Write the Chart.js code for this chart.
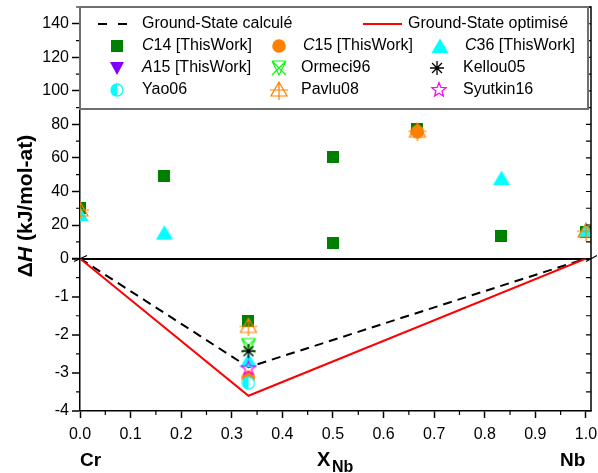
<!DOCTYPE html>
<html>
<head>
<meta charset="utf-8">
<script src="https://cdn.jsdelivr.net/npm/chart.js@4.4.1/dist/chart.umd.min.js"></script>
<style>
  html, body { margin: 0; padding: 0; background: #fff; }
</style>
</head>
<body>
<canvas id="enthalpyChart" width="598" height="473"></canvas>
<script>
// values (x = X_Nb, y = dH in kJ/mol-at)
const xC14 = [0, 0.167, 0.333, 0.5, 0.5, 0.667, 0.833, 1.0];
const yC14 = [30, 49.5, -1.65, 60.5, 9.5, 77.5, 13.5, 16];
const xC15 = [0.333, 0.667];
const yC15 = [-3.12, 75.6];
const xC36 = [0, 0.167, 0.333, 0.833, 1.0];
const yC36 = [26.5, 15.5, -2.67, 48, 17];
const xA15 = [];
const yA15 = [];
const xYao06 = [0.333];
const yYao06 = [-3.27];
const xOrmeci96 = [0.333];
const yOrmeci96 = [-2.28];
const xPavlu08 = [0, 0.333, 0.667, 1.0];
const yPavlu08 = [29, -1.78, 76, 16.3];
const xKellou05 = [0.333];
const yKellou05 = [-2.43];
const xSyutkin16 = [0.333];
const ySyutkin16 = [-2.88];

const xGsCalc = [0, 0.333, 1.0];
const yGsCalc = [0, -2.85, 0];
const xGsOpt = [0, 0.333, 1.0];
const yGsOpt = [0, -3.6, 0];

const xTicks = [0, 0.1, 0.2, 0.3, 0.4, 0.5, 0.6, 0.7, 0.8, 0.9, 1.0];

const FONT = "'Liberation Sans', Arial, sans-serif";
Chart.defaults.font.family = FONT;
Chart.defaults.color = '#000';

// marker images
function marker(size, draw) {
    const c = document.createElement('canvas');
    c.width = size;
    c.height = size;
    const g = c.getContext('2d');
    g.translate(size / 2, size / 2);
    draw(g);
    return c;
}

const mkSquare = marker(12, g => {
    g.fillStyle = '#008000';
    g.fillRect(-6, -6, 12, 12);
});
const mkCircle = marker(14, g => {
    g.fillStyle = '#ff8000';
    g.beginPath();
    g.arc(0, 0, 6.8, 0, Math.PI * 2);
    g.fill();
});
const mkTri = marker(18, g => {
    g.fillStyle = '#00ffff';
    g.beginPath();
    g.moveTo(0, -7.5);
    g.lineTo(8.5, 7);
    g.lineTo(-8.5, 7);
    g.closePath();
    g.fill();
});
const mkInvTri = marker(16, g => {
    g.fillStyle = '#8000ff';
    g.beginPath();
    g.moveTo(-7, -6);
    g.lineTo(7, -6);
    g.lineTo(0, 7);
    g.closePath();
    g.fill();
});
const mkYao = marker(14, g => {
    g.fillStyle = '#fff';
    g.beginPath();
    g.arc(0, 0, 6, 0, Math.PI * 2);
    g.fill();
    g.fillStyle = '#00ffff';
    g.beginPath();
    g.arc(0, 0, 6, Math.PI / 2, Math.PI * 1.5);
    g.fill();
    g.strokeStyle = '#00ffff';
    g.lineWidth = 1.3;
    g.beginPath();
    g.arc(0, 0, 6, 0, Math.PI * 2);
    g.stroke();
});
const mkOrmeci = marker(18, g => {
    g.strokeStyle = '#00ff00';
    g.lineWidth = 1.2;
    g.beginPath();
    g.moveTo(-7, -7); g.lineTo(7, -7);
    g.moveTo(-7, -7); g.lineTo(0, 7); g.lineTo(7, -7);
    g.moveTo(-7, -7); g.lineTo(7, 7);
    g.moveTo(7, -7); g.lineTo(-7, 7);
    g.stroke();
});
const mkPavlu = marker(20, g => {
    g.strokeStyle = '#ff8000';
    g.lineWidth = 1.2;
    g.beginPath();
    g.moveTo(0, -8); g.lineTo(8, 6); g.lineTo(-8, 6); g.closePath();
    g.moveTo(0, -8); g.lineTo(0, 10);
    g.moveTo(-9, 0); g.lineTo(9, 0);
    g.stroke();
});
const mkKellou = marker(16, g => {
    g.strokeStyle = '#000';
    g.lineWidth = 1.3;
    g.beginPath();
    for (let k = 0; k < 4; k++) {
        const a = k * Math.PI / 4;
        g.moveTo(-7 * Math.cos(a), -7 * Math.sin(a));
        g.lineTo(7 * Math.cos(a), 7 * Math.sin(a));
    }
    g.stroke();
});
const mkStar = marker(18, g => {
    g.strokeStyle = '#ff00ff';
    g.lineWidth = 1.2;
    g.beginPath();
    for (let k = 0; k < 10; k++) {
        const r = k % 2 === 0 ? 7.5 : 3.2;
        const a = -Math.PI / 2 + k * Math.PI / 5;
        if (k === 0) g.moveTo(r * Math.cos(a), r * Math.sin(a));
        else g.lineTo(r * Math.cos(a), r * Math.sin(a));
    }
    g.closePath();
    g.stroke();
});

// first in list is drawn on top
const pointSeries = [
    { label: 'Yao06', xs: xYao06, ys: yYao06, style: mkYao },
    { label: 'Syutkin16', xs: xSyutkin16, ys: ySyutkin16, style: mkStar },
    { label: 'Kellou05', xs: xKellou05, ys: yKellou05, style: mkKellou },
    { label: 'Ormeci96', xs: xOrmeci96, ys: yOrmeci96, style: mkOrmeci },
    { label: 'C15 [ThisWork]', xs: xC15, ys: yC15, style: mkCircle },
    { label: 'Pavlu08', xs: xPavlu08, ys: yPavlu08, style: mkPavlu },
    { label: 'C36 [ThisWork]', xs: xC36, ys: yC36, style: mkTri },
    { label: 'C14 [ThisWork]', xs: xC14, ys: yC14, style: mkSquare },
    { label: 'A15 [ThisWork]', xs: xA15, ys: yA15, style: mkInvTri }
];

const datasets = [];
pointSeries.forEach(s => {
    const top = [];
    const bot = [];
    s.xs.forEach((x, i) => {
        if (s.ys[i] >= 0) top.push({ x: x, y: s.ys[i] });
        else bot.push({ x: x, y: s.ys[i] });
    });
    [['yTop', top], ['yBot', bot]].forEach(([axis, pts]) => {
        datasets.push({
            label: s.label,
            data: pts,
            yAxisID: axis,
            pointStyle: s.style,
            pointRadius: 6,
            showLine: false,
            clip: 0
        });
    });
});

function toPoints(xs, ys) {
    return xs.map((x, i) => ({ x: x, y: ys[i] }));
}

datasets.push({
    label: 'Ground-State optimisé',
    data: toPoints(xGsOpt, yGsOpt),
    yAxisID: 'yBot',
    showLine: true,
    borderColor: '#ff0000',
    borderWidth: 2,
    pointRadius: 0,
    clip: 0
});
datasets.push({
    label: 'Ground-State calculé',
    data: toPoints(xGsCalc, yGsCalc),
    yAxisID: 'yBot',
    showLine: true,
    borderColor: '#000',
    borderWidth: 2,
    borderDash: [9, 6],
    pointRadius: 0,
    clip: 0
});

// legend entries, in the figure's layout
const legendRows = [
    [{ line: 'dash', label: 'Ground-State calculé', mx: 112, tx: 142 },
     { line: 'red', label: 'Ground-State optimisé', mx: 382, tx: 408 }],
    [{ mk: mkSquare, it: 'C', label: '14 [ThisWork]', mx: 117, tx: 142 },
     { mk: mkCircle, it: 'C', label: '15 [ThisWork]', mx: 279, tx: 303 },
     { mk: mkTri, it: 'C', label: '36 [ThisWork]', mx: 440, tx: 465 }],
    [{ mk: mkInvTri, it: 'A', label: '15 [ThisWork]', mx: 117, tx: 142 },
     { mk: mkOrmeci, label: 'Ormeci96', mx: 279, tx: 301 },
     { mk: mkKellou, label: 'Kellou05', mx: 437, tx: 463 }],
    [{ mk: mkYao, label: 'Yao06', mx: 117, tx: 142 },
     { mk: mkPavlu, label: 'Pavlu08', mx: 279, tx: 301 },
     { mk: mkStar, label: 'Syutkin16', mx: 439, tx: 463 }]
];

const decor = {
    id: 'decor',
    afterDraw(chart) {
        const ctx = chart.ctx;
        const a = chart.chartArea;
        const sx = chart.scales.x;
        const yt = chart.scales.yTop;
        const yb = chart.scales.yBot;
        ctx.save();
        ctx.strokeStyle = '#000';
        ctx.lineWidth = 1.5;

        // top and right frame
        ctx.beginPath();
        ctx.moveTo(a.left, a.top);
        ctx.lineTo(a.right, a.top);
        ctx.lineTo(a.right, a.bottom);
        ctx.stroke();

        ctx.lineWidth = 1.2;
        ctx.beginPath();
        // minor ticks, left and bottom
        for (let v = 10; v <= 150; v += 20) {
            const p = yt.getPixelForValue(v);
            ctx.moveTo(a.left - 4, p); ctx.lineTo(a.left, p);
        }
        for (let v = -3.5; v < 0; v += 1) {
            const p = yb.getPixelForValue(v);
            ctx.moveTo(a.left - 4, p); ctx.lineTo(a.left, p);
        }
        for (let v = 0.05; v < 1.0; v += 0.1) {
            const p = sx.getPixelForValue(v);
            ctx.moveTo(p, a.bottom); ctx.lineTo(p, a.bottom + 4);
        }
        // right side ticks, inward
        for (let v = 0; v <= 150; v += 10) {
            const p = yt.getPixelForValue(v);
            ctx.moveTo(a.right - 5, p); ctx.lineTo(a.right, p);
        }
        for (let v = -4; v < 0; v += 0.5) {
            const p = yb.getPixelForValue(v);
            ctx.moveTo(a.right - 5, p); ctx.lineTo(a.right, p);
        }
        // axis break marks at zero
        const z = yb.getPixelForValue(0);
        ctx.moveTo(a.left - 6, z + 3); ctx.lineTo(a.left + 7, z - 3);
        ctx.moveTo(a.right - 5, z + 3); ctx.lineTo(a.right + 6, z - 3);
        ctx.stroke();

        // legend box
        const bx = a.left, by = a.top, bw = 508, bh = 102;
        ctx.fillStyle = '#fff';
        ctx.fillRect(bx, by, bw, bh);
        ctx.strokeStyle = '#6e6e6e';
        ctx.lineWidth = 2;
        ctx.strokeRect(bx, by, bw, bh);

        ctx.textBaseline = 'middle';
        ctx.textAlign = 'left';
        ctx.fillStyle = '#000';
        legendRows.forEach((row, r) => {
            const cy = 24 + r * 22;
            row.forEach(e => {
                if (e.line === 'dash') {
                    ctx.strokeStyle = '#000';
                    ctx.lineWidth = 2;
                    ctx.setLineDash([9, 11]);
                    ctx.beginPath();
                    ctx.moveTo(98, cy); ctx.lineTo(127, cy);
                    ctx.stroke();
                    ctx.setLineDash([]);
                } else if (e.line === 'red') {
                    ctx.strokeStyle = '#ff0000';
                    ctx.lineWidth = 2;
                    ctx.beginPath();
                    ctx.moveTo(363, cy); ctx.lineTo(402, cy);
                    ctx.stroke();
                } else {
                    ctx.drawImage(e.mk, e.mx - e.mk.width / 2, cy - e.mk.height / 2);
                }
                let tx = e.tx;
                if (e.it) {
                    ctx.font = 'italic 16px ' + FONT;
                    ctx.fillText(e.it, tx, cy);
                    tx += ctx.measureText(e.it).width;
                }
                ctx.font = '16px ' + FONT;
                ctx.fillText(e.label, tx, cy);
            });
        });

        // y axis title
        ctx.save();
        ctx.translate(26, 206);
        ctx.rotate(-Math.PI / 2);
        const parts = [['bold 21px ', '\u0394'], ['italic bold 21px ', 'H'], ['bold 21px ', ' (kJ/mol-at)']];
        let total = 0;
        parts.forEach(p => { ctx.font = p[0] + FONT; total += ctx.measureText(p[1]).width; });
        let px = -total / 2;
        parts.forEach(p => {
            ctx.font = p[0] + FONT;
            ctx.fillText(p[1], px, 0);
            px += ctx.measureText(p[1]).width;
        });
        ctx.restore();

        // x axis labels
        ctx.textBaseline = 'alphabetic';
        ctx.font = 'bold 19px ' + FONT;
        ctx.fillText('Cr', 80, 466);
        ctx.fillText('Nb', 560, 466);
        ctx.font = 'bold 20px ' + FONT;
        ctx.fillText('X', 317, 466);
        ctx.font = 'bold 16px ' + FONT;
        ctx.fillText('Nb', 332, 472);
        ctx.restore();
    }
};

function fitVertical(s) {
    s.width = 80;
    s.paddingTop = 0;
    s.paddingBottom = 0;
}

const ctx = document.getElementById('enthalpyChart').getContext('2d');
new Chart(ctx, {
    type: 'scatter',
    data: { datasets: datasets },
    options: {
        responsive: false,
        animation: false,
        events: [],
        layout: { padding: { top: 5, right: 6, left: 0, bottom: 0 } },
        plugins: { legend: { display: false }, tooltip: { enabled: false } },
        scales: {
            x: {
                type: 'linear',
                min: 0,
                max: 1.01,
                ticks: {
                    stepSize: 0.1,
                    includeBounds: false,
                    autoSkip: false,
                    maxRotation: 0,
                    padding: 7,
                    font: { size: 16 },
                    callback: v => xTicks.some(t => Math.abs(t - v) < 1e-6) ? v.toFixed(1) : ''
                },
                grid: { drawOnChartArea: false, tickLength: 7, tickColor: '#000', tickWidth: 1.5 },
                border: { color: '#000', width: 1.5 },
                afterFit: s => { s.height = 62; s.paddingLeft = 0; s.paddingRight = 0; }
            },
            yBot: {
                type: 'linear',
                position: 'left',
                stack: 'y',
                stackWeight: 153,
                min: -4,
                max: 0,
                ticks: {
                    stepSize: 1,
                    includeBounds: false,
                    autoSkip: false,
                    padding: 3,
                    font: { size: 16 },
                    callback: v => v === 0 ? '' : String(v)
                },
                grid: {
                    drawOnChartArea: true,
                    tickLength: 8,
                    tickColor: '#000',
                    tickWidth: 1.5,
                    color: c => c.tick && c.tick.value === 0 ? '#000' : 'rgba(0,0,0,0)',
                    lineWidth: c => c.tick && c.tick.value === 0 ? 2 : 0
                },
                border: { color: '#000', width: 1.5 },
                afterFit: fitVertical
            },
            yTop: {
                type: 'linear',
                position: 'left',
                stack: 'y',
                stackWeight: 252.5,
                min: 0,
                max: 150,
                ticks: {
                    stepSize: 20,
                    includeBounds: false,
                    autoSkip: false,
                    padding: 3,
                    font: { size: 16 }
                },
                grid: { drawOnChartArea: false, tickLength: 8, tickColor: '#000', tickWidth: 1.5 },
                border: { color: '#000', width: 1.5 },
                afterFit: fitVertical
            }
        }
    },
    plugins: [decor]
});
</script>
</body>
</html>
